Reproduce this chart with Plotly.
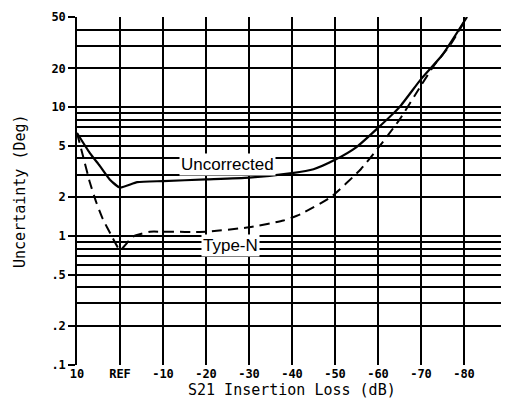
import math
import plotly.graph_objects as go

# ---- data ----
uncorr_db = [10, 7, 4.7, 2.4, 0, -4, -10, -20, -30, -40, -45, -50, -55, -60, -65, -70, -75, -80.7]
uncorr_val = [6.3, 4.4, 3.5, 2.75, 2.38, 2.62, 2.67, 2.75, 2.84, 3.08, 3.3, 3.9, 4.9, 6.9, 10, 16.5, 25.5, 50]

typen_db = [10, 8.2, 7, 5.5, 4, 2, 0, -3, -7, -10, -20, -30, -38, -42, -49, -56, -60, -65, -70, -73, -77, -80.7]
typen_val = [6.3, 3.7, 2.6, 1.82, 1.36, 1.01, 0.78, 0.99, 1.08, 1.08, 1.08, 1.17, 1.32, 1.48, 2.0, 3.3, 4.8, 8.0, 14.7, 21, 31, 50]

x_tick_vals = [10, 0, -10, -20, -30, -40, -50, -60, -70, -80, -90]
x_tick_text = ["10", "REF", "-10", "-20", "-30", "-40", "-50", "-60", "-70", "-80", "-90"]
y_tick_vals = [50, 20, 10, 5, 2, 1, 0.5, 0.2, 0.1]
y_tick_text = ["50", "20", "10", "5", "2", "1", ".5", ".2", ".1"]
y_grid_vals = [0.1, 0.2, 0.3, 0.4, 0.5, 0.6, 0.7, 0.8, 0.9,
               1, 2, 3, 4, 5, 6, 7, 8, 9, 10, 20, 30, 40, 50]

curve_labels = ["Uncorrected", "Type-N"]
label_db = [-25, -25.7]
label_val = [3.57, 0.85]

x_title = "S21 Insertion Loss (dB)"
y_title = "Uncertainty (Deg)"

# ---- figure ----
fig = go.Figure()
fig.add_trace(go.Scatter(x=uncorr_db, y=uncorr_val, mode="lines",
                         line=dict(color="black", width=2.2, shape="spline", smoothing=0.5),
                         showlegend=False))
fig.add_trace(go.Scatter(x=typen_db, y=typen_val, mode="lines",
                         line=dict(color="black", width=2, dash="10px,6px", shape="spline", smoothing=0.5),
                         showlegend=False))

for text, xv, yv in zip(curve_labels, label_db, label_val):
    fig.add_annotation(x=xv, y=math.log10(yv), text=text, showarrow=False,
                       font=dict(family="Liberation Sans, Arial", size=17, color="black"),
                       bgcolor="white", borderpad=1)

mono = "DejaVu Sans Mono"
fig.add_annotation(xref="paper", yref="paper", x=0.5, y=-0.071, text=x_title,
                   showarrow=False, xanchor="center", yanchor="middle",
                   font=dict(family=mono, size=15, color="black"))
fig.add_annotation(xref="paper", yref="paper", x=-0.1326, y=0.5, text=y_title,
                   showarrow=False, textangle=-90, xanchor="center", yanchor="middle",
                   font=dict(family=mono, size=15, color="black"))

fig.update_xaxes(range=[10, -90], tickmode="array", tickvals=x_tick_vals, ticktext=x_tick_text,
                 showgrid=True, gridcolor="black", gridwidth=1.5, griddash="solid",
                 minor=dict(tickmode="array", tickvals=x_tick_vals, showgrid=True,
                            gridcolor="black", gridwidth=1.5),
                 showline=False, zeroline=False, ticks="",
                 tickfont=dict(family=mono, size=12, color="black", weight="bold"))
fig.update_yaxes(type="log", range=[-1, 1.69897], tickmode="array",
                 tickvals=y_tick_vals, ticktext=y_tick_text,
                 showgrid=False, showline=True, linecolor="black", linewidth=1.5,
                 ticks="outside", ticklen=7, tickwidth=1.8, tickcolor="black",
                 zeroline=False, ticklabeloverflow="allow",
                 minor=dict(tickmode="array", tickvals=y_grid_vals, showgrid=True,
                            gridcolor="black", gridwidth=1.8, ticks=""),
                 tickfont=dict(family=mono, size=12, color="black", weight="bold"))

# page body has an 8px margin; size the figure so the plot lands where the reference has it
fig.update_layout(width=501, height=400, margin=dict(l=69, r=2, t=6, b=43),
                  paper_bgcolor="white", plot_bgcolor="white")

fig.write_html("out.html")
